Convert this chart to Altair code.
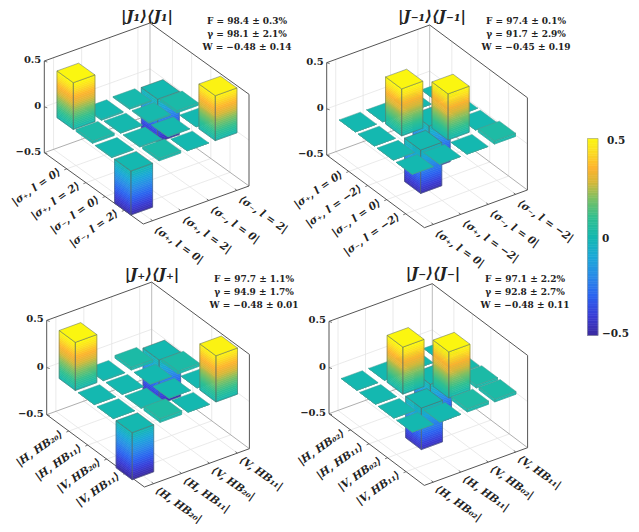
import altair as alt

# ---- values (row = ket index, column = bra index)
matrix_j1 = [[0.51, -0.01, 0.01, -0.47],
             [0.025, 0.005, 0.01, 0.025],
             [-0.005, 0.005, 0.005, 0.0],
             [-0.48, 0.025, 0.0, 0.49]]
matrix_jm1 = [[0.0, 0.0, 0.0, 0.0],
              [0.0, 0.51, -0.47, 0.0],
              [0.0, -0.47, 0.5, 0.0],
              [0.0, 0.0, 0.0, 0.035]]
matrix_jp = [[0.51, -0.005, 0.03, -0.47],
             [0.0, 0.0, 0.0, 0.03],
             [0.0, 0.005, 0.0, 0.0],
             [-0.5, 0.04, 0.0, 0.49]]
matrix_jn = [[0.0, 0.0, 0.0, 0.0],
             [0.0, 0.51, -0.45, 0.01],
             [0.0, -0.45, 0.5, 0.03],
             [0.0, 0.0, 0.035, 0.03]]

titles = ["|J₁⟩⟨J₁|", "|J₋₁⟩⟨J₋₁|", "|J₊⟩⟨J₊|", "|J₋⟩⟨J₋|"]
stats = [["F = 98.4 ± 0.3%", "γ = 98.1 ± 2.1%", "W = −0.48 ± 0.14"],
         ["F = 97.4 ± 0.1%", "γ = 91.7 ± 2.9%", "W = −0.45 ± 0.19"],
         ["F = 97.7 ± 1.1%", "γ = 94.9 ± 1.7%", "W = −0.48 ± 0.01"],
         ["F = 97.1 ± 2.2%", "γ = 92.8 ± 2.7%", "W = −0.48 ± 0.11"]]
ket_labels = [["|σ₊, l = 0⟩", "|σ₊, l = 2⟩", "|σ₋, l = 0⟩", "|σ₋, l = 2⟩"],
              ["|σ₊, l = 0⟩", "|σ₊, l = −2⟩", "|σ₋, l = 0⟩", "|σ₋, l = −2⟩"],
              ["|H, HB₂₀⟩", "|H, HB₁₁⟩", "|V, HB₂₀⟩", "|V, HB₁₁⟩"],
              ["|H, HB₀₂⟩", "|H, HB₁₁⟩", "|V, HB₀₂⟩", "|V, HB₁₁⟩"]]
bra_labels = [["⟨σ₊, l = 0|", "⟨σ₊, l = 2|", "⟨σ₋, l = 0|", "⟨σ₋, l = 2|"],
              ["⟨σ₊, l = 0|", "⟨σ₊, l = −2|", "⟨σ₋, l = 0|", "⟨σ₋, l = −2|"],
              ["⟨H, HB₂₀|", "⟨H, HB₁₁|", "⟨V, HB₂₀|", "⟨V, HB₁₁|"],
              ["⟨H, HB₀₂|", "⟨H, HB₁₁|", "⟨V, HB₀₂|", "⟨V, HB₁₁|"]]
z_ticks = [-0.5, 0, 0.5]
z_tick_text = ["−0.5", "0", "0.5"]
matrices = [matrix_j1, matrix_jm1, matrix_jp, matrix_jn]

# ---- colour map sampled from the colour bar
stops = [(0.0, "#3b2a9e"), (0.1, "#3a3cd6"), (0.2, "#2b62f0"), (0.3, "#2a8ae8"),
         (0.4, "#1ba8d8"), (0.5, "#14b8b0"), (0.6, "#30c090"), (0.7, "#80c062"),
         (0.78, "#d8b838"), (0.85, "#fdb32e"), (0.94, "#fce020"), (1.0, "#fbf610")]


def cmap(z):
    t = max(0.0, min(1.0, z + 0.5))
    for (t0, c0), (t1, c1) in zip(stops, stops[1:]):
        if t <= t1:
            f = (t - t0) / (t1 - t0)
            a = [int(c0[i:i + 2], 16) for i in (1, 3, 5)]
            b = [int(c1[i:i + 2], 16) for i in (1, 3, 5)]
            return "#%02x%02x%02x" % tuple(round(p + f * (q - p)) for p, q in zip(a, b))
    return stops[-1][1]


# ---- view of each 3-D box: left floor corner, axis vectors, height of the z axis
views = [dict(o=(44.3, 152.7), u=(99.0, 71.3), v=(105.7, -38.0), h=91.7),
         dict(o=(326.7, 155.0), u=(97.7, 72.7), v=(103.0, -37.7), h=92.3),
         dict(o=(46.7, 414.7), u=(97.7, 72.3), v=(105.0, -38.3), h=94.3),
         dict(o=(329.0, 413.7), u=(95.3, 71.7), v=(103.3, -37.7), h=92.3)]
title_pos = [(147, 16), (432, 16), (152, 274), (433, 273)]
stat_pos = [(247, 21), (526, 21), (254, 279), (525, 279)]
bra_drop = [8, 8, 6, 6]
U0, US, UW = 0.144, 0.194, 0.165
V0, VS, VW = -0.015, 0.266, 0.205
u_c = [U0 + UW / 2 + US * i for i in range(4)]
v_c = [V0 + VW / 2 + VS * i for i in range(4)]

features = []


def add(kind, coords, fill="none", stroke="none", sw=0.0):
    features.append({"type": "Feature",
                     "geometry": {"type": kind, "coordinates": coords},
                     "properties": {"fill": fill, "stroke": stroke, "sw": sw}})


def poly(pts, fill="none", stroke="none", sw=0.0):
    add("Polygon", [[list(p) for p in pts] + [list(pts[0])]], fill, stroke, sw)


def line(pts, stroke, sw):
    add("LineString", [list(p) for p in pts], "none", stroke, sw)


GRID, FRAME, EDGE = "#e4e4e4", "#555555", "#5b6b66"
TILE_EDGE = "#4c9a90"
left_txt, right_txt, z_txt, plain, title_txt = [], [], [], [], []

for k, view in enumerate(views):
    def P(u, v, z, view=view):
        return (view["o"][0] + u * view["u"][0] + v * view["v"][0],
                view["o"][1] + u * view["u"][1] + v * view["v"][1] - (z + 0.5) * view["h"])

    # walls and floor
    for c in u_c:
        line([P(c, 0, -.5), P(c, 1, -.5)], GRID, 0.8)
        line([P(c, 1, -.5), P(c, 1, .5)], GRID, 0.8)
    for c in v_c:
        line([P(0, c, -.5), P(1, c, -.5)], GRID, 0.8)
        line([P(0, c, -.5), P(0, c, .5)], GRID, 0.8)
    line([P(0, 0, 0), P(0, 1, 0), P(1, 1, 0)], GRID, 0.8)
    line([P(0, 0, -.5), P(0, 1, -.5), P(1, 1, -.5)], "#999999", 0.8)
    line([P(0, 1, -.5), P(0, 1, .5)], "#aaaaaa", 0.8)
    line([P(0, 0, .5), P(0, 1, .5), P(1, 1, .5), P(1, 1, -.5), P(1, 0, -.5), P(0, 0, -.5), P(0, 0, .5)], FRAME, 1.0)
    for z in z_ticks:
        x, y = P(0, 0, z)
        line([(x, y), (x + 3, y + 1)], FRAME, 0.8)
    for c in u_c:
        x, y = P(c, 0, -.5)
        line([(x, y), (x - 2.5, y + 1)], FRAME, 0.8)
    for c in v_c:
        x, y = P(1, c, -.5)
        line([(x, y), (x - 2, y - 1.5)], FRAME, 0.8)

    # bars, far ones first
    cells = sorted(((i, j) for i in range(4) for j in range(4)), key=lambda c: c[0] - c[1])
    for i, j in cells:
        val = matrices[k][i][j]
        ua, ub = U0 + US * i, U0 + US * i + UW
        va, vb = V0 + VS * j, V0 + VS * j + VW
        lo, hi = min(0.0, val), max(0.0, val)
        edge = EDGE if abs(val) > 0.1 else TILE_EDGE
        n = max(1, int(round((hi - lo) / 0.02)))
        for s in range(n):
            z0 = lo + (hi - lo) * s / n
            z1 = lo + (hi - lo) * (s + 1) / n
            col = cmap((z0 + z1) / 2)
            poly([P(ua, va, z0), P(ub, va, z0), P(ub, va, z1), P(ua, va, z1)], col, col, 0.6)
            poly([P(ub, va, z0), P(ub, vb, z0), P(ub, vb, z1), P(ub, va, z1)], col, col, 0.6)
        poly([P(ua, va, lo), P(ub, va, lo), P(ub, va, hi), P(ua, va, hi)], "none", edge, 0.5)
        poly([P(ub, va, lo), P(ub, vb, lo), P(ub, vb, hi), P(ub, va, hi)], "none", edge, 0.5)
        poly([P(ua, va, hi), P(ub, va, hi), P(ub, vb, hi), P(ua, vb, hi)], cmap(hi), edge, 0.5)

    # texts
    for z, t in zip(z_ticks, z_tick_text):
        x, y = P(0, 0, z)
        z_txt.append({"x": x - 3, "y": y - 1, "t": t})
    for c, t in zip(u_c, ket_labels[k]):
        x, y = P(c, 0, -.5)
        left_txt.append({"x": x - 7, "y": y + 2, "t": t})
    for c, t in zip(v_c, bra_labels[k]):
        x, y = P(1, c, -.5)
        right_txt.append({"x": x + 3, "y": y + bra_drop[k], "t": t})
    title_txt.append({"x": title_pos[k][0], "y": title_pos[k][1], "t": titles[k]})
    for m, t in enumerate(stats[k]):
        plain.append({"x": stat_pos[k][0], "y": stat_pos[k][1] + 13 * m, "t": t})

# ---- colour bar
CB_X0, CB_X1, CB_Y0, CB_Y1 = 587.5, 598, 335.5, 138.5
bands = 80
for b in range(bands):
    z0 = -0.5 + b / bands
    z1 = -0.5 + (b + 1) / bands
    y0 = CB_Y0 + (CB_Y1 - CB_Y0) * b / bands
    y1 = CB_Y0 + (CB_Y1 - CB_Y0) * (b + 1) / bands
    col = cmap((z0 + z1) / 2)
    poly([(CB_X0, y0), (CB_X1, y0), (CB_X1, y1), (CB_X0, y1)], col, col, 0.6)
poly([(CB_X0, CB_Y0), (CB_X1, CB_Y0), (CB_X1, CB_Y1), (CB_X0, CB_Y1)], "none", "#9aa0a0", 0.6)
cb_txt = [{"x": 607, "y": 141, "t": "0.5"}, {"x": 602, "y": 239, "t": "0"}, {"x": 602, "y": 334, "t": "−0.5"}]

proj = dict(type="identity", scale=1, translate=[-8, -8])
FONT = "DejaVu Serif"
geo = (alt.Chart(alt.Data(values=features)).mark_geoshape()
       .encode(fill=alt.Fill("properties.fill:N", scale=None),
               stroke=alt.Stroke("properties.stroke:N", scale=None),
               strokeWidth=alt.StrokeWidth("properties.sw:Q", scale=None))
       .project(**proj))


def text_layer(rows, **kw):
    return (alt.Chart(alt.Data(values=rows))
            .mark_text(font=FONT, fontWeight="bold", color="#222222", baseline="middle", **kw)
            .encode(longitude="x:Q", latitude="y:Q", text="t:N")
            .project(**proj))


chart = alt.layer(
    geo,
    text_layer(left_txt, align="right", angle=325, fontSize=10.5, fontStyle="italic"),
    text_layer(right_txt, align="left", angle=35, fontSize=10.5, fontStyle="italic"),
    text_layer(z_txt, align="right", fontSize=10),
    text_layer(cb_txt, align="left", fontSize=10.5),
    text_layer(plain, align="center", fontSize=9),
    text_layer(title_txt, align="center", fontSize=15, fontStyle="italic"),
).properties(width=623, height=516, padding=0, autosize=alt.AutoSizeParams(type="none")
).configure_view(stroke=None)

chart.save("out.html", embed_options={"renderer": "svg", "actions": False})
